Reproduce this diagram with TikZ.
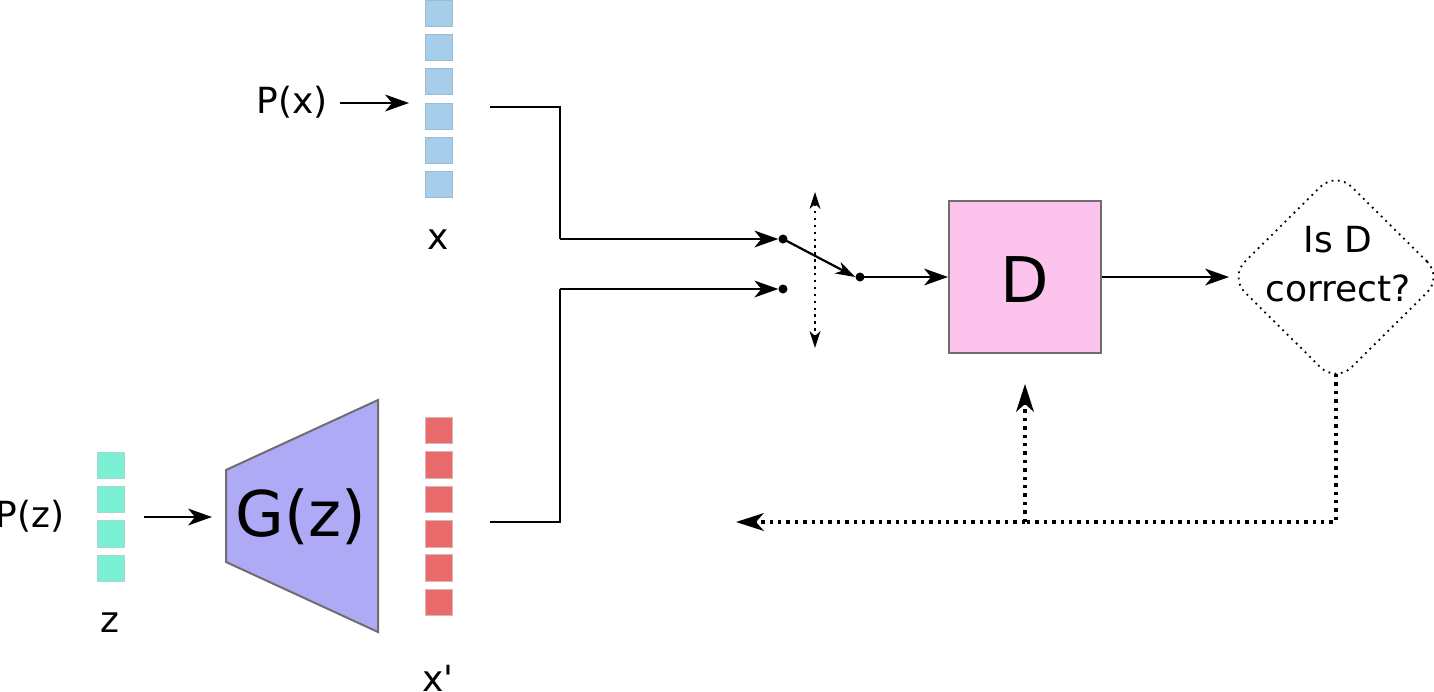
\documentclass[tikz,border=0pt]{standalone}
\usepackage{fontspec}
\setmainfont{DejaVu Sans}
\usetikzlibrary{arrows.meta,shapes.geometric}
\definecolor{xblue}{HTML}{A6CDE9}
\definecolor{xblueline}{HTML}{9DBBD2}
\definecolor{xred}{HTML}{E96A6A}
\definecolor{xredline}{HTML}{D9B5B5}
\definecolor{zteal}{HTML}{7BF0D5}
\definecolor{ztealline}{HTML}{A9D8CB}
\definecolor{gpurple}{HTML}{AFAAF6}
\definecolor{dpink}{HTML}{FCC4EC}
\definecolor{edgegray}{HTML}{6E6E6E}
\tikzset{
  blk/.style={minimum width=27pt, minimum height=26.5pt, inner sep=0pt, line width=0.8pt},
  xblk/.style={blk, fill=xblue, draw=xblueline},
  rblk/.style={blk, fill=xred, draw=xredline},
  zblk/.style={blk, fill=zteal, draw=ztealline},
  lbl/.style={font=\fontsize{36}{43}\selectfont, inner sep=0pt},
  big/.style={font=\fontsize{63}{70}\selectfont, inner sep=0pt},
  head/.style={-{Stealth[length=24pt, width=17pt, inset=7pt, line width=0pt]}},
  arr/.style={line width=2.8pt, head},
  wire/.style={line width=2.8pt},
  fb/.style={line width=3.4pt, dash pattern=on 3.4pt off 5pt, line cap=butt},
  fbarr/.style={fb, -{Stealth[length=28pt, width=18pt, inset=8pt, line width=0pt, sep=0pt]}},
  pin/.style={circle, fill=black, inner sep=0pt, minimum size=9pt},
  swline/.style={line width=2.4pt, dash pattern=on 2.4pt off 4.5pt},
  swarr/.style={swline, {Stealth[length=17pt, width=11pt, inset=5pt, line width=0pt]}-{Stealth[length=17pt, width=11pt, inset=5pt, line width=0pt]}},
}
\begin{document}
\begin{tikzpicture}[x=1pt, y=-1pt]
\useasboundingbox (0,0) rectangle (1434,691);
% x vector
\foreach \i/\yy in {1/13.3, 2/47.3, 3/81.6, 4/116.5, 5/150.3, 6/184.6} {
  \node[xblk] (x\i) at (438.5,\yy) {};
}
\node[lbl] (xlab) at (438,240) {x};
\node[lbl] (px) at (292,102) {P(x)};
\coordinate (pxs) at (340,103);
\coordinate (pxend) at (409,103);
\draw[arr, line width=2.6pt] (pxs) -- (pxend);
% x' vector
\foreach \i/\yy in {1/430.3, 2/465, 3/499.5, 4/533.7, 5/568, 6/602.5} {
  \node[rblk] (r\i) at (438.5,\yy) {};
}
\node[lbl] (xplab) at (438,678) {x\textquotesingle};
% z vector
\foreach \i/\yy in {1/465.3, 2/499.3, 3/533.8, 4/568.2} {
  \node[zblk] (z\i) at (110.5,\yy) {};
}
\node[lbl] (zlab) at (110,623) {z};
\node[lbl] (pz) at (30,516) {P(z)};
% generator trapezoid
\coordinate (gA) at (226,470);
\coordinate (gB) at (378,400);
\coordinate (gC) at (378,632);
\coordinate (gD) at (226,562);
\draw[fill=gpurple, draw=edgegray, line width=2pt] (gA) -- (gB) -- (gC) -- (gD) -- cycle;
\node[big] (G) at (301,517) {G(z)};
\coordinate (garrs) at (144,517);
\coordinate (garre) at (212,517);
\draw[arr, line width=2.6pt] (garrs) -- (garre);
% switch pins
\node[pin] (s1) at (783,239) {};
\node[pin] (s2) at (783,289) {};
\node[pin] (s3) at (860,277) {};
% wires
\coordinate (w1) at (490,107);
\coordinate (w1b) at (560,107);
\coordinate (w1c) at (560,239);
\draw[wire] (w1) -- (w1b) -- (w1c);
\draw[arr] (w1c) -- (s1.west);
\coordinate (w2) at (490,522);
\coordinate (w2b) at (560,522);
\coordinate (w2c) at (560,289);
\draw[wire] (w2) -- (w2b) -- (w2c);
\draw[arr] (w2c) -- (s2.west);
\draw[line width=2.2pt, -{Stealth[length=20pt, width=13pt, inset=6pt, line width=0pt]}] (s1.center) -- (s3.west);
% switch toggle
\coordinate (swt) at (815,192);
\coordinate (swb) at (815,348);
\draw[swarr] (swt) -- (swb);
% D
\node[draw=edgegray, fill=dpink, line width=2pt, minimum width=152pt, minimum height=152pt, inner sep=0pt] (D) at (1025,277) {};
\node[big] (Dlab) at (1025,280) {D};
\draw[arr] (s3.center) -- (D.west);
% decision
\node[diamond, draw, line width=1.8pt, dash pattern=on 1.8pt off 4.5pt, rounded corners=22pt, minimum width=214pt, minimum height=212pt, inner sep=0pt] (Q) at (1336,277) {};
\node[lbl, align=center, font=\fontsize{36}{49}\selectfont] (Qlab) at (1338,264) {Is D\\correct?};
\coordinate (qin) at (1229,277);
\draw[arr] (D.east) -- (qin);
% feedback
\coordinate (qout) at (1336,374);
\coordinate (fbc) at (1336,522);
\coordinate (fbj) at (1025,522);
\coordinate (fbl) at (736,522);
\coordinate (fbu) at (1025,384);
\draw[fb] (qout) -- (fbc) -- (fbj);
\draw[fbarr] (fbj) -- (fbl);
\draw[fbarr] (fbj) -- (fbu);
\end{tikzpicture}
\end{document}
